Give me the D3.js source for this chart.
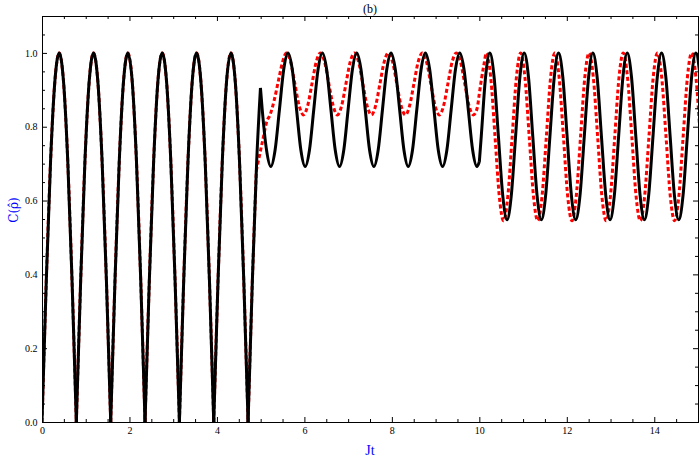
<!DOCTYPE html>
<html><head><meta charset="utf-8">
<script src="https://cdn.jsdelivr.net/npm/d3@7"></script>
<style>body{margin:0;background:#fff}svg{display:block}</style>
</head><body>
<svg id="c" width="700" height="460"></svg>
<script>
// ---- text ----
const titleText = "(b)";
const xLabelText = "Jt";
const yLabelText = "C(\u03C1\u0302)";

// ---- ticks ----
const xTicksMajor = [0, 2, 4, 6, 8, 10, 12, 14];
const xTicksMinor = [0.5, 1, 1.5, 2.5, 3, 3.5, 4.5, 5, 5.5, 6.5, 7, 7.5, 8.5, 9, 9.5, 10.5, 11, 11.5, 12.5, 13, 13.5, 14.5, 15];
const yTicksMajor = [0, 0.2, 0.4, 0.6, 0.8, 1.0];
const yTicksMinor = [0.05, 0.1, 0.15, 0.25, 0.3, 0.35, 0.45, 0.5, 0.55, 0.65, 0.7, 0.75, 0.85, 0.9, 0.95, 1.05, 1.1];

// ---- black solid series (Jt, C) ----
const blackT = [
  0, 0.098, 0.196, 0.295, 0.393, 0.491, 0.589, 0.687,
  0.785, 0.884, 0.982, 1.080, 1.178, 1.276, 1.374, 1.473,
  1.571, 1.669, 1.767, 1.865, 1.963, 2.062, 2.160, 2.258,
  2.356, 2.454, 2.553, 2.651, 2.749, 2.847, 2.945, 3.043,
  3.142, 3.240, 3.338, 3.436, 3.534, 3.632, 3.731, 3.829,
  3.927, 4.025, 4.123, 4.221, 4.320, 4.418, 4.516, 4.614,
  4.712, 4.810, 4.909, 4.995, 5.036, 5.134,
  5.232, 5.330, 5.429, 5.527, 5.625, 5.723, 5.821, 5.919,
  6.018, 6.116, 6.214, 6.312, 6.410, 6.509, 6.607, 6.705,
  6.803, 6.901, 6.999, 7.098, 7.196, 7.294, 7.392, 7.490,
  7.589, 7.687, 7.785, 7.883, 7.981, 8.079, 8.178, 8.276,
  8.374, 8.472, 8.570, 8.668, 8.767, 8.865, 8.963, 9.061,
  9.159, 9.258, 9.356, 9.454, 9.552, 9.650, 9.748, 9.847,
  9.945, 10.0, 10.044, 10.142,
  10.240, 10.338, 10.436, 10.535, 10.633, 10.731, 10.829, 10.927,
  11.025, 11.124, 11.222, 11.320, 11.418, 11.516, 11.614, 11.713,
  11.811, 11.909, 12.007, 12.105, 12.203, 12.302, 12.400, 12.498,
  12.596, 12.694, 12.792, 12.891, 12.989, 13.087, 13.185, 13.283,
  13.382, 13.480, 13.578, 13.676, 13.774, 13.872, 13.971, 14.069,
  14.167, 14.265, 14.363, 14.461, 14.560, 14.658, 14.756, 14.854,
  14.952, 15.050];
const blackC = [
  0, 0.383, 0.707, 0.924, 1, 0.924, 0.707, 0.383,
  0, 0.383, 0.707, 0.924, 1, 0.924, 0.707, 0.383,
  0, 0.383, 0.707, 0.924, 1, 0.924, 0.707, 0.383,
  0, 0.383, 0.707, 0.924, 1, 0.924, 0.707, 0.383,
  0, 0.383, 0.707, 0.924, 1, 0.924, 0.707, 0.383,
  0, 0.383, 0.707, 0.924, 1, 0.924, 0.707, 0.383,
  0, 0.383, 0.707, 0.905, 0.846, 0.737,
  0.692, 0.737, 0.846, 0.955, 1, 0.955, 0.846, 0.737,
  0.692, 0.737, 0.846, 0.955, 1, 0.955, 0.846, 0.737,
  0.692, 0.737, 0.846, 0.955, 1, 0.955, 0.846, 0.737,
  0.692, 0.737, 0.846, 0.955, 1, 0.955, 0.846, 0.737,
  0.692, 0.737, 0.846, 0.955, 1, 0.955, 0.846, 0.737,
  0.692, 0.737, 0.846, 0.955, 1, 0.955, 0.846, 0.737,
  0.692, 0.705, 0.774, 0.934,
  1, 0.934, 0.774, 0.614, 0.548, 0.614, 0.774, 0.934,
  1, 0.934, 0.774, 0.614, 0.548, 0.614, 0.774, 0.934,
  1, 0.934, 0.774, 0.614, 0.548, 0.614, 0.774, 0.934,
  1, 0.934, 0.774, 0.614, 0.548, 0.614, 0.774, 0.934,
  1, 0.934, 0.774, 0.614, 0.548, 0.614, 0.774, 0.934,
  1, 0.934, 0.774, 0.614, 0.548, 0.614, 0.774, 0.934,
  1, 0.934];
const blackCorners = [0.785, 1.571, 2.356, 3.142, 3.927, 4.712, 4.995, 10.0];

// ---- red dotted series (Jt, C) ----
const redT = [
  0, 0.098, 0.196, 0.295, 0.393, 0.491, 0.589, 0.687,
  0.785, 0.884, 0.982, 1.080, 1.178, 1.276, 1.374, 1.473,
  1.571, 1.669, 1.767, 1.865, 1.963, 2.062, 2.160, 2.258,
  2.356, 2.454, 2.553, 2.651, 2.749, 2.847, 2.945, 3.043,
  3.142, 3.240, 3.338, 3.436, 3.534, 3.632, 3.731, 3.829,
  3.927, 4.025, 4.123, 4.221, 4.320, 4.418, 4.516, 4.614,
  4.712, 4.810, 4.90, 5.05, 5.15, 5.20, 5.31, 5.41, 5.50,
  5.589, 5.686, 5.783, 5.880, 5.978, 6.075, 6.172, 6.269,
  6.366, 6.463, 6.560, 6.657, 6.755, 6.852, 6.949, 7.046,
  7.143, 7.240, 7.337, 7.434, 7.532, 7.629, 7.726, 7.823,
  7.920, 8.017, 8.114, 8.211, 8.309, 8.406, 8.503, 8.600,
  8.697, 8.794, 8.891, 8.988, 9.086, 9.183, 9.280, 9.377,
  9.474, 9.571, 9.668, 9.765, 9.863, 9.95, 10.0, 10.05, 10.10,
  10.163, 10.261, 10.359, 10.456, 10.554, 10.652, 10.750, 10.847,
  10.945, 11.043, 11.141, 11.238, 11.336, 11.434, 11.532, 11.629,
  11.727, 11.825, 11.923, 12.020, 12.118, 12.216, 12.314, 12.411,
  12.509, 12.607, 12.705, 12.802, 12.900, 12.998, 13.096, 13.193,
  13.291, 13.389, 13.487, 13.584, 13.682, 13.780, 13.878, 13.975,
  14.073, 14.171, 14.269, 14.366, 14.464, 14.562, 14.660, 14.757,
  14.855, 14.953, 15.051];
const redC = [
  0, 0.383, 0.707, 0.924, 1, 0.924, 0.707, 0.383,
  0, 0.383, 0.707, 0.924, 1, 0.924, 0.707, 0.383,
  0, 0.383, 0.707, 0.924, 1, 0.924, 0.707, 0.383,
  0, 0.383, 0.707, 0.924, 1, 0.924, 0.707, 0.383,
  0, 0.383, 0.707, 0.924, 1, 0.924, 0.707, 0.383,
  0, 0.383, 0.707, 0.924, 1, 0.924, 0.707, 0.383,
  0, 0.383, 0.68, 0.765, 0.818, 0.828, 0.872, 0.927, 0.975,
  1, 0.975, 0.916, 0.857, 0.832, 0.857, 0.916, 0.975,
  1, 0.975, 0.916, 0.857, 0.832, 0.857, 0.916, 0.975,
  1, 0.975, 0.916, 0.857, 0.832, 0.857, 0.916, 0.975,
  1, 0.975, 0.916, 0.857, 0.832, 0.857, 0.916, 0.975,
  1, 0.975, 0.916, 0.857, 0.832, 0.857, 0.916, 0.975,
  1, 0.975, 0.916, 0.857, 0.832, 0.85, 0.89, 0.93, 0.965,
  1, 0.933, 0.7725, 0.612, 0.545, 0.612, 0.7725, 0.933,
  1, 0.933, 0.7725, 0.612, 0.545, 0.612, 0.7725, 0.933,
  1, 0.933, 0.7725, 0.612, 0.545, 0.612, 0.7725, 0.933,
  1, 0.933, 0.7725, 0.612, 0.545, 0.612, 0.7725, 0.933,
  1, 0.933, 0.7725, 0.612, 0.545, 0.612, 0.7725, 0.933,
  1, 0.933, 0.7725, 0.612, 0.545, 0.612, 0.7725, 0.933,
  1, 0.933, 0.7725];
const redCorners = [0.785, 1.571, 2.356, 3.142, 3.927, 4.712, 4.90];

// ---- layout ----
const L = 42, R = 698, T = 16, B = 422;
const svg = d3.select("#c");
const x = d3.scaleLinear().domain([0, 15]).range([L, R]);
const y = d3.scaleLinear().domain([0, 1.1]).range([B, T]);

function segments(ts, cs, corners) {
  const segs = []; let cur = [];
  const n = Math.min(ts.length, cs.length);
  for (let i = 0; i < n; i++) {
    const t = ts[i];
    cur.push([t, cs[i]]);
    if (cur.length > 1 && corners.some(c => Math.abs(c - t) < 1e-9)) {
      segs.push(cur); cur = [[t, cs[i]]];
    }
  }
  if (cur.length > 1) segs.push(cur);
  return segs;
}

svg.append("defs").append("clipPath").attr("id", "plot")
  .append("rect").attr("x", L).attr("y", T).attr("width", R - L).attr("height", B - T);

const line = d3.line().x(d => x(d[0])).y(d => y(d[1])).curve(d3.curveMonotoneX);
const plot = svg.append("g").attr("clip-path", "url(#plot)");

plot.selectAll("path.red").data(segments(redT, redC, redCorners)).join("path")
  .attr("class", "red").attr("d", line).attr("fill", "none")
  .attr("stroke", "#ff0000").attr("stroke-width", 3).attr("stroke-dasharray", "4,2.6");
plot.selectAll("path.black").data(segments(blackT, blackC, blackCorners)).join("path")
  .attr("class", "black").attr("d", line).attr("fill", "none")
  .attr("stroke", "#000").attr("stroke-width", 3);

// ---- axes (frame with inward ticks) ----
function styleAxis(g) {
  g.select(".domain").remove();
  g.attr("font-family", "'Liberation Serif', 'Times New Roman', serif").attr("font-size", 10);
  g.selectAll("line").attr("stroke", "#000");
  g.selectAll("text").attr("fill", "#000");
}
const MAJ = 5, MIN = 3;
svg.append("g").attr("transform", `translate(0,${B})`)
  .call(d3.axisBottom(x).tickValues(xTicksMinor).tickSizeInner(-MIN).tickSizeOuter(0).tickFormat(() => "")).call(styleAxis);
svg.append("g").attr("transform", `translate(0,${B})`)
  .call(d3.axisBottom(x).tickValues(xTicksMajor).tickSizeInner(-MAJ).tickSizeOuter(0).tickPadding(5).tickFormat(d3.format("d"))).call(styleAxis);
svg.append("g").attr("transform", `translate(0,${T})`)
  .call(d3.axisTop(x).tickValues(xTicksMinor).tickSizeInner(-MIN).tickSizeOuter(0).tickFormat(() => "")).call(styleAxis);
svg.append("g").attr("transform", `translate(0,${T})`)
  .call(d3.axisTop(x).tickValues(xTicksMajor).tickSizeInner(-MAJ).tickSizeOuter(0).tickFormat(() => "")).call(styleAxis);
svg.append("g").attr("transform", `translate(${L},0)`)
  .call(d3.axisLeft(y).tickValues(yTicksMinor).tickSizeInner(-MIN).tickSizeOuter(0).tickFormat(() => "")).call(styleAxis);
svg.append("g").attr("transform", `translate(${L},0)`)
  .call(d3.axisLeft(y).tickValues(yTicksMajor).tickSizeInner(-MAJ).tickSizeOuter(0).tickPadding(4.5).tickFormat(d3.format(".1f"))).call(styleAxis);
svg.append("g").attr("transform", `translate(${R},0)`)
  .call(d3.axisRight(y).tickValues(yTicksMinor).tickSizeInner(-MIN).tickSizeOuter(0).tickFormat(() => "")).call(styleAxis);
svg.append("g").attr("transform", `translate(${R},0)`)
  .call(d3.axisRight(y).tickValues(yTicksMajor).tickSizeInner(-MAJ).tickSizeOuter(0).tickFormat(() => "")).call(styleAxis);

svg.append("rect").attr("x", L + 0.5).attr("y", T + 0.5).attr("width", R - L).attr("height", B - T)
  .attr("fill", "none").attr("stroke", "#000").attr("stroke-width", 1);

// ---- labels ----
svg.append("text").attr("x", (L + R) / 2).attr("y", 12.5).attr("text-anchor", "middle")
  .attr("font-family", "'Liberation Serif', serif").attr("font-size", 12).attr("fill", "#000").text(titleText);
svg.append("text").attr("x", (L + R) / 2).attr("y", 455).attr("text-anchor", "middle")
  .attr("font-family", "'Liberation Serif', serif").attr("font-size", 14).attr("fill", "#0000ff").text(xLabelText);
svg.append("text").attr("transform", "translate(18,210) rotate(-90)").attr("text-anchor", "middle")
  .attr("font-family", "'DejaVu Serif', serif").attr("font-size", 12).attr("fill", "#0000ff").text(yLabelText);
</script>
</body></html>
